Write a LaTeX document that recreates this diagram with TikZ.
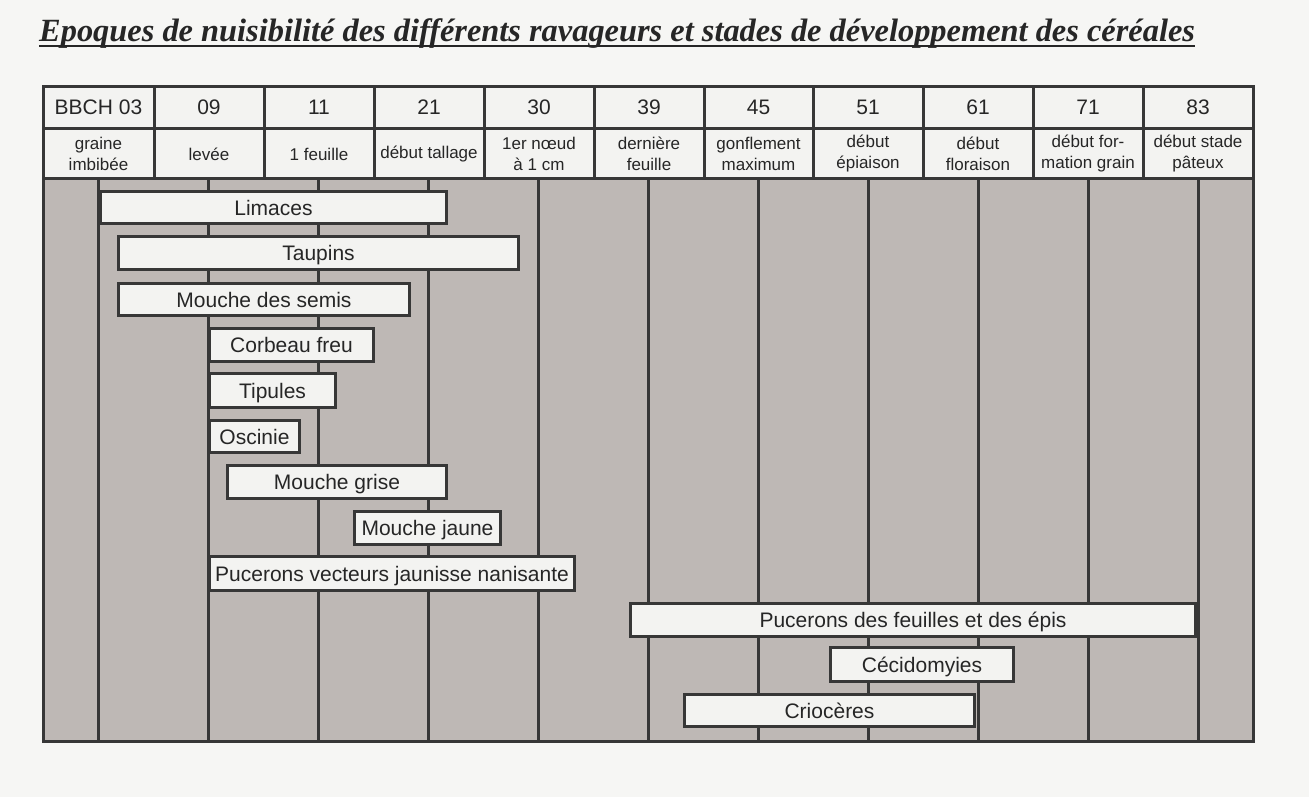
\documentclass[tikz,border=0pt]{standalone}
\usepackage{fontspec}
\setmainfont{Liberation Sans}
\newfontfamily\titlefont{Liberation Serif}
\definecolor{paper}{RGB}{246,246,244}
\definecolor{gridc}{RGB}{55,55,55}
\definecolor{greyarea}{RGB}{190,184,181}
\definecolor{cell}{RGB}{243,243,241}
\definecolor{ink}{RGB}{38,38,38}
\newcommand\pestbar[6]{\node[pest, minimum width={#4-#2-3}, minimum height={#5-#3-3}] (#1) at ({(#2+#4)/2},{(#3+#5)/2}) {#6};}
\begin{document}
\begin{tikzpicture}[x=1pt,y=-1pt,
  gridline/.style={draw=gridc, line width=3pt},
  thinline/.style={draw=gridc, line width=3pt},
  pest/.style={draw=gridc, line width=3pt, fill=cell, inner sep=0pt, text=ink, text height=15pt, text depth=0pt, font=\fontsize{21}{25}\selectfont},
  numcell/.style={inner sep=0pt, text=ink, text height=15pt, text depth=0pt, font=\fontsize{21}{25}\selectfont},
  stagecell/.style={inner sep=0pt, text=ink, align=center, font=\fontsize{17}{21}\selectfont},
  titlestyle/.style={anchor=base west, inner sep=0pt, text=ink, font=\titlefont\bfseries\itshape\fontsize{32.4}{36}\selectfont}]
\fill[paper] (0,0) rectangle (1309,797);
\useasboundingbox (0,0) rectangle (1309,797);
% title
\node[titlestyle] (title) at (39,42) {Epoques de nuisibilit\'e des diff\'erents ravageurs et stades de d\'eveloppement des c\'er\'eales};
\draw[ink, line width=2.5pt] ([yshift=-4pt]title.base west) -- ([yshift=-4pt]title.base east);
% table areas
\fill[cell] (43,87) rectangle (1253,178);
\fill[greyarea] (43,178) rectangle (1253,741);
% grey area vertical lines
\foreach \x in {98,208,318,428,538,648,758,868,978,1088,1198}
  \draw[thinline] (\x,178) -- (\x,741);
% header lines
\foreach \x in {154,264,374,484,594,704,813,923,1033,1143}
  \draw[gridline] (\x,87) -- (\x,178);
\draw[gridline] (43,129) -- (1253,129);
\draw[gridline] (43,178) -- (1253,178);
\draw[gridline] (43,87) rectangle (1253,741);
% header texts
\foreach \i/\xa/\xb/\num/\stage in {
  1/43/154/{BBCH 03}/{graine\\imbib\'ee},
  2/154/264/09/lev\'ee,
  3/264/374/11/1 feuille,
  4/374/484/21/d\'ebut tallage,
  5/484/594/30/{1er n\oe ud\\\`a 1 cm},
  6/594/704/39/{derni\`ere\\feuille},
  7/704/813/45/{gonflement\\maximum},
  8/813/923/51/{d\'ebut\\\'epiaison},
  9/923/1033/61/{d\'ebut\\floraison},
  10/1033/1143/71/{d\'ebut for-\\mation grain},
  11/1143/1253/83/{d\'ebut stade\\p\^ateux}} {
  \node[numcell] (h\i) at ({(\xa+\xb)/2},107.5) {\num};
  \node[stagecell] (s\i) at ({(\xa+\xb)/2},154) {\stage};
}
% pest bars
\pestbar{limaces}{99}{190}{448}{225}{Limaces}
\pestbar{taupins}{117}{235}{520}{271}{Taupins}
\pestbar{semis}{117}{282}{411}{317}{Mouche des semis}
\pestbar{corbeau}{208}{327}{375}{363}{Corbeau freu}
\pestbar{tipules}{208}{372}{337}{409}{Tipules}
\pestbar{oscinie}{208}{419}{301}{454}{Oscinie}
\pestbar{grise}{226}{464}{448}{500}{Mouche grise}
\pestbar{jaune}{353}{510}{502}{546}{Mouche jaune}
\pestbar{vecteurs}{208}{555}{576}{592}{Pucerons vecteurs jaunisse nanisante}
\pestbar{feuilles}{629}{602}{1197}{638}{Pucerons des feuilles et des \'epis}
\pestbar{cecido}{829}{646}{1015}{683}{C\'ecidomyies}
\pestbar{crioceres}{683}{693}{976}{728}{Crioc\`eres}
\end{tikzpicture}
\end{document}
